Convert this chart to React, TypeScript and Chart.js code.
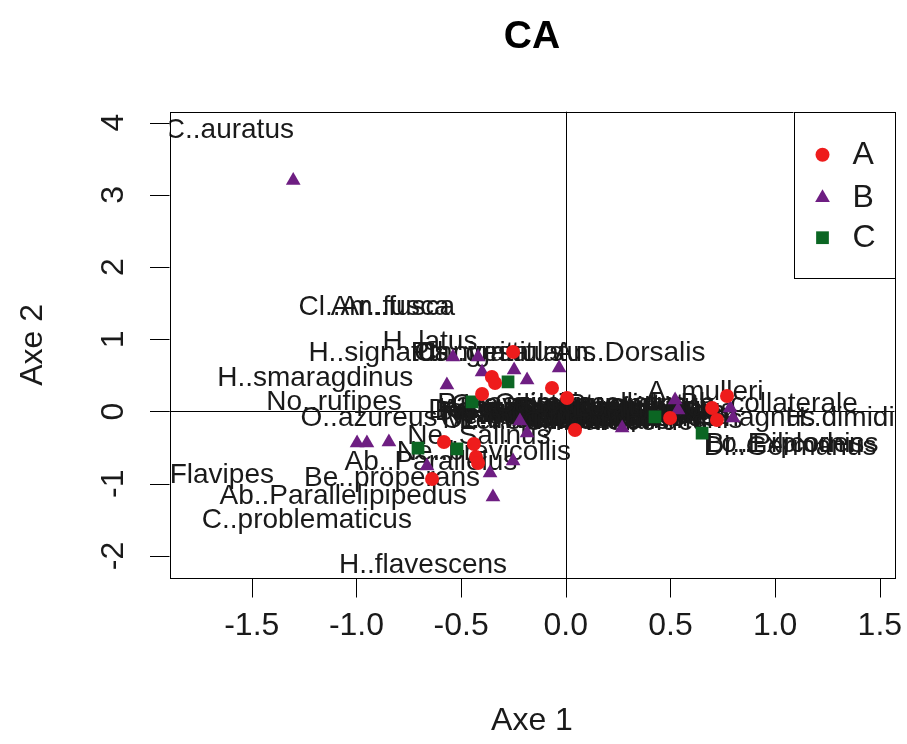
import React, { useEffect, useRef } from "react";
import { Chart, registerables } from "chart.js";

Chart.register(...registerables);

// ---- data ----
const seriesNames = ["A", "B", "C"];
const seriesColors = ["#ee1c1c", "#6e1e82", "#0b6623"];

const aX = [-0.252, -0.353, -0.338, -0.4, -0.066, 0.006, 0.044, -0.582, -0.439, -0.429, -0.419, -0.639, 0.498, 0.699, 0.722, 0.77];
const aY = [0.824, 0.478, 0.395, 0.242, 0.325, 0.187, -0.256, -0.422, -0.45, -0.63, -0.713, -0.935, -0.09, 0.048, -0.118, 0.215];

const bX = [-1.302, -0.997, -0.95, -0.845, -0.568, -0.539, -0.419, -0.4, -0.247, -0.185, -0.032, -0.219, -0.185, -0.663, -0.362, -0.252, -0.348, 0.269, 0.522, 0.536, 0.785, 0.799];
const bY = [3.2, -0.436, -0.436, -0.422, 0.367, 0.755, 0.755, 0.547, 0.575, 0.436, 0.602, -0.132, -0.298, -0.755, -0.852, -0.686, -1.184, -0.229, 0.159, 0.021, 0.048, -0.09];

const cX = [-0.276, -0.448, -0.706, -0.52, 0.426, 0.651];
const cY = [0.409, 0.132, -0.506, -0.519, -0.076, -0.298];

const xTicks = [-1.5, -1, -0.5, 0, 0.5, 1, 1.5];
const xTickLabels = ["-1.5", "-1.0", "-0.5", "0.0", "0.5", "1.0", "1.5"];
const yTicks = [-2, -1, 0, 1, 2, 3, 4];
const yTickLabels = ["-2", "-1", "0", "1", "2", "3", "4"];

const labelNames = [
  "C..auratus", "Cl..Ar..fusca", "Am..fusca", "H..latus", "H..signatus", "Pt..nigrita",
  "Ca..granulatus", "Ch..vestitus", "An..Dorsalis", "H..smaragdinus", "No..rufipes",
  "O..azureus", "Ne..Salinus", "Ne..brevicollis", "Ab..Parallelus", "Be..properans",
  "Flavipes", "Ab..Parallelipipedus", "C..problematicus", "H..flavescens", "A..mulleri",
  "Bb..collaterale", "Pt..magnus", "H..dimidiatus", "Br..Explodens", "Lo..Pilicornis",
  "Di..Germanus", "De..atricapillus", "Ba..bullatus", "Po..cupreus", "Pt..melanarius",
  "Pt..madidus", "Ca..nemoralis", "Ps..rufipes", "Ag..dorsale", "Am..similata",
  "Am..aenea", "Lo..pilicornis", "Tr..quadristriatus", "Ne..salina", "Ca..fuscipes",
  "Bd..lampros", "Cl..fossor", "Ha..rubripes", "St..pumicatus", "Ac..meridianus",
  "Po..versicolor", "Pt..strenuus", "Ca..auronitens", "Sy..vivalis", "Bd..tetracolum",
  "Ha..affinis", "Pa..assimilis", "Ot..ovatus", "Ca..violaceus", "Le..spinibarbis",
  "Ne..livida", "Ab..ater", "Ha..distinguendus", "Pr..vernalis", "Pt..cristatus",
  "Am..communis", "Ha..tardus", "Ca..cancellatus", "Mi..minutulus", "Lo..fulvipes",
  "Cy..caraboides"
];
const labelX = [
  -1.607, -0.916, -0.826, -0.649, -0.895, -0.458,
  -0.29, -0.362, 0.307, -1.197, -1.107,
  -0.94, -0.415, -0.391, -0.644, -0.83,
  -1.643, -1.063, -1.237, -0.682, 0.666,
  0.971, 0.853, 1.437, 1.081, 1.047,
  1.071, -0.219, -0.276, -0.123, -0.028,
  0.068, 0.164, 0.259, 0.355, 0.164,
  -0.028, -0.123, 0.116, -0.171, 0.259,
  0.211, 0.044, -0.052, 0.378, 0.283,
  -0.195, 0.092, 0.188, 0.45, 0.331,
  -0.314, -0.243, -0.29, -0.147, -0.075,
  -0.314, -0.362, 0.044, 0.164, 0.355,
  0.402, 0.498, 0.116, -0.195, 0.378,
  0.235
];
const labelY = [
  3.9, 1.45, 1.45, 0.96, 0.8, 0.8,
  0.8, 0.8, 0.8, 0.46, 0.13,
  -0.09, -0.35, -0.56, -0.71, -0.92,
  -0.89, -1.18, -1.5, -2.13, 0.26,
  0.1, -0.09, -0.09, -0.46, -0.46,
  -0.49, 0.02, -0.01, -0.03, -0.01,
  -0.05, 0.01, -0.03, -0.01, -0.08,
  -0.09, 0.03, -0.02, -0.06, 0.03,
  -0.09, 0.02, -0.06, -0.06, -0.09,
  -0.02, -0.1, 0.05, -0.03, -0.01,
  0.03, 0.1, -0.12, 0.09, -0.13,
  -0.06, 0.01, 0.08, -0.13, 0.09,
  -0.12, 0.02, 0.1, -0.12, 0.05,
  -0.15
];

const FONT = '"Liberation Sans", Arial, "DejaVu Sans", sans-serif';
const TEXT = "#1a1a1a";

function drawMarker(ctx: CanvasRenderingContext2D, kind: number, x: number, y: number, color: string) {
  ctx.fillStyle = color;
  ctx.beginPath();
  if (kind === 0) {
    ctx.arc(x, y, 7, 0, Math.PI * 2);
  } else if (kind === 1) {
    const r = 8.5;
    for (let k = 0; k < 3; k++) {
      const ang = (k * 2 * Math.PI) / 3;
      const px = x + Math.sin(ang) * r;
      const py = y - Math.cos(ang) * r;
      if (k === 0) ctx.moveTo(px, py);
      else ctx.lineTo(px, py);
    }
    ctx.closePath();
  } else {
    const s = 9 * Math.SQRT1_2;
    ctx.rect(x - s, y - s, 2 * s, 2 * s);
  }
  ctx.fill();
}

const decorPlugin = {
  id: "caDecor",
  beforeDatasetsDraw(chart: any) {
    const { ctx, chartArea: a, scales } = chart;
    const xs = scales.x;
    const ys = scales.y;
    ctx.save();
    ctx.strokeStyle = "#000";
    ctx.lineWidth = 1;
    const x0 = Math.round(xs.getPixelForValue(0)) + 0.5;
    const y0 = Math.round(ys.getPixelForValue(0)) + 0.5;
    ctx.beginPath();
    ctx.moveTo(x0, a.top);
    ctx.lineTo(x0, a.bottom);
    ctx.moveTo(a.left, y0);
    ctx.lineTo(a.right, y0);
    ctx.stroke();

    ctx.beginPath();
    ctx.rect(a.left, a.top, a.right - a.left, a.bottom - a.top);
    ctx.clip();
    ctx.fillStyle = TEXT;
    ctx.font = `28px ${FONT}`;
    ctx.textAlign = "center";
    ctx.textBaseline = "middle";
    labelNames.forEach((n, i) => {
      ctx.fillText(n, xs.getPixelForValue(labelX[i]), ys.getPixelForValue(labelY[i]));
    });
    ctx.restore();
  },
  afterDatasetsDraw(chart: any) {
    const { ctx, chartArea: a, scales } = chart;
    const xs = scales.x;
    const ys = scales.y;
    ctx.save();
    ctx.strokeStyle = "#000";
    ctx.lineWidth = 1;
    ctx.strokeRect(Math.round(a.left) + 0.5, Math.round(a.top) + 0.5, Math.round(a.right - a.left), Math.round(a.bottom - a.top));

    const tickLen = 19.5;
    ctx.fillStyle = TEXT;
    ctx.font = `32px ${FONT}`;
    ctx.textAlign = "center";
    ctx.textBaseline = "middle";
    xTicks.forEach((v, i) => {
      const px = Math.round(xs.getPixelForValue(v)) + 0.5;
      ctx.beginPath();
      ctx.moveTo(px, a.bottom);
      ctx.lineTo(px, a.bottom + tickLen);
      ctx.stroke();
      ctx.fillText(xTickLabels[i], xs.getPixelForValue(v), a.bottom + 48);
    });
    yTicks.forEach((v, i) => {
      const py = Math.round(ys.getPixelForValue(v)) + 0.5;
      ctx.beginPath();
      ctx.moveTo(a.left - tickLen, py);
      ctx.lineTo(a.left, py);
      ctx.stroke();
      ctx.save();
      ctx.translate(a.left - 55, ys.getPixelForValue(v));
      ctx.rotate(-Math.PI / 2);
      ctx.fillText(yTickLabels[i], 0, 0);
      ctx.restore();
    });

    const cx = (a.left + a.right) / 2;
    ctx.fillText("Axe 1", cx, 721);
    ctx.save();
    ctx.translate(33, (a.top + a.bottom) / 2);
    ctx.rotate(-Math.PI / 2);
    ctx.fillText("Axe 2", 0, 0);
    ctx.restore();

    ctx.font = `bold 39px ${FONT}`;
    ctx.fillStyle = "#000";
    ctx.fillText("CA", cx, 37);

    // legend
    const lw = 101;
    const lh = 166;
    const lx = a.right - lw;
    const ly = a.top;
    ctx.fillStyle = "#fff";
    ctx.fillRect(lx, ly, lw, lh);
    ctx.strokeStyle = "#000";
    ctx.strokeRect(Math.round(lx) + 0.5, Math.round(ly) + 0.5, lw, lh);
    const rowsY = [43, 86, 126];
    seriesNames.forEach((n, i) => {
      drawMarker(ctx, i, lx + 29, ly + rowsY[i], seriesColors[i]);
      ctx.fillStyle = TEXT;
      ctx.font = `32px ${FONT}`;
      ctx.textAlign = "left";
      ctx.fillText(n, lx + 59, ly + rowsY[i]);
    });
    ctx.restore();
  },
};

function toPts(xsArr: number[], ysArr: number[]) {
  return xsArr.map((v, i) => ({ x: v, y: ysArr[i] }));
}

export default function App() {
  const ref = useRef<HTMLCanvasElement | null>(null);
  useEffect(() => {
    if (!ref.current) return;
    const chart = new Chart(ref.current, {
      type: "scatter",
      data: {
        datasets: [
          {
            label: seriesNames[0],
            data: toPts(aX, aY),
            pointStyle: "circle",
            pointRadius: 7,
            pointBackgroundColor: seriesColors[0],
            pointBorderWidth: 0,
            borderWidth: 0,
          },
          {
            label: seriesNames[1],
            data: toPts(bX, bY),
            pointStyle: "triangle",
            pointRadius: 8.5,
            pointBackgroundColor: seriesColors[1],
            pointBorderWidth: 0,
            borderWidth: 0,
          },
          {
            label: seriesNames[2],
            data: toPts(cX, cY),
            pointStyle: "rect",
            pointRadius: 9,
            pointBackgroundColor: seriesColors[2],
            pointBorderWidth: 0,
            borderWidth: 0,
          },
        ],
      },
      options: {
        responsive: false,
        animation: false,
        events: [],
        layout: { padding: { left: 169.5, right: 12.5, top: 111.7, bottom: 166 } },
        scales: {
          x: { type: "linear", min: -1.893, max: 1.57, display: false },
          y: { type: "linear", min: -2.306, max: 4.152, display: false },
        },
        plugins: {
          legend: { display: false },
          tooltip: { enabled: false },
          title: { display: false },
        },
      },
      plugins: [decorPlugin],
    } as any);
    return () => chart.destroy();
  }, []);
  return (
    <div style={{ position: "fixed", left: 0, top: 0, width: 907, height: 744, background: "#fff" }}>
      <canvas ref={ref} width={907} height={744} style={{ display: "block" }} />
    </div>
  );
}
